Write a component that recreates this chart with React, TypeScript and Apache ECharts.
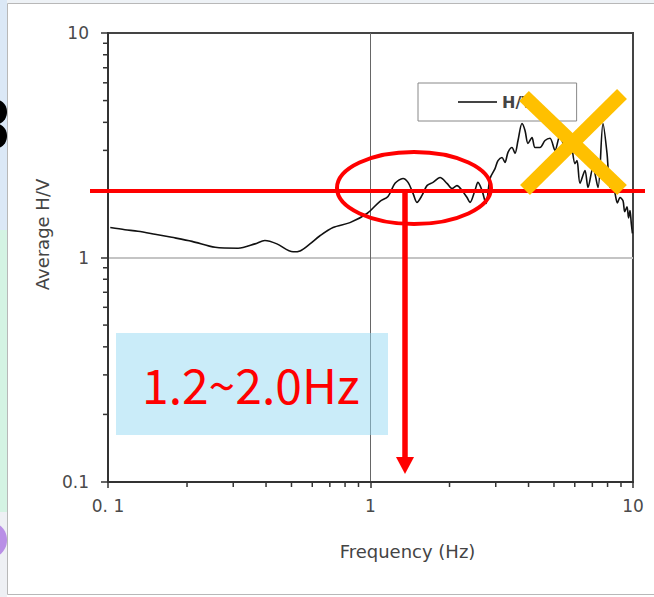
import React, { useEffect, useRef } from "react";
import * as echarts from "echarts";

// ---- data ----
const freqHz = [
  0.102, 0.116, 0.13, 0.151, 0.175, 0.209, 0.256, 0.313, 0.363, 0.396, 0.44, 0.507, 0.539, 0.588,
  0.642, 0.72, 0.835, 0.97, 1.087, 1.166, 1.24, 1.33, 1.39, 1.452, 1.503, 1.571, 1.641, 1.73, 1.84,
  1.956, 2.044, 2.135, 2.232, 2.332, 2.393, 2.5, 2.567, 2.659, 2.754, 2.853, 2.981, 3.06, 3.17,
  3.253, 3.34, 3.459, 3.552, 3.647, 3.777, 3.878, 3.981, 4.123, 4.234, 4.423, 4.622, 4.829, 5.045,
  5.272, 5.508, 5.754, 6.012, 6.119, 6.282, 6.563, 6.739, 7.042, 7.356, 7.686, 7.962, 8.174, 8.35,
  8.54, 8.72, 8.923, 9.161, 9.3, 9.487, 9.62, 9.74, 9.85, 9.95,
];
const avgHV = [
  1.36, 1.33, 1.31, 1.27, 1.23, 1.18, 1.11, 1.1, 1.15, 1.19, 1.15, 1.06, 1.07, 1.15,
  1.25, 1.36, 1.43, 1.57, 1.78, 1.87, 2.14, 2.25, 2.16, 1.93, 1.76, 1.89, 2.09, 2.16, 2.27,
  2.14, 2.03, 2.09, 1.99, 1.85, 1.76, 1.99, 2.16, 1.99, 1.74, 2.25, 2.49, 2.7, 2.79,
  2.65, 2.94, 3.09, 2.91, 3.32, 3.95, 3.68, 3.22, 3.42, 3.09, 3.09, 3.32, 3.4, 3.0,
  3.5, 3.1, 3.3, 2.62, 2.7, 2.14, 2.44, 2.05, 2.52, 2.05, 3.95, 2.91, 2.05, 2.15,
  1.93, 1.75, 1.85, 1.79, 1.6, 1.68, 1.5, 1.62, 1.42, 1.28,
];
const seriesName = "H/V";
const xTickValues = [0.1, 1, 10];
const xTickLabels = ["0. 1", "1", "10"];
const yTickValues = [0.1, 1, 10];
const yTickLabels = ["0.1", "1", "10"];
const minorTickValues = [0.2, 0.3, 0.4, 0.5, 0.6, 0.7, 0.8, 0.9, 2, 3, 4, 5, 6, 7, 8, 9];
const xAxisTitle = "Frequency (Hz)";
const yAxisTitle = "Average H/V";
const annotationText = "1.2~2.0Hz";

const labelFormatter = (vals: number[], labels: string[]) => (v: number) => {
  const i = vals.findIndex((t) => Math.abs(Math.log10(t) - Math.log10(v)) < 1e-6);
  return i >= 0 ? labels[i] : "";
};

const FONT = "DejaVu Sans";

export default function App() {
  const ref = useRef<HTMLDivElement>(null);
  useEffect(() => {
    const chart = echarts.init(ref.current!, null, { renderer: "svg" });
    chart.setOption({
      animation: false,
      backgroundColor: "#ffffff",
      grid: {
        left: 108,
        right: 21,
        top: 33,
        bottom: 115,
        show: true,
        borderColor: "#444",
        borderWidth: 2,
        backgroundColor: "transparent",
      },
      legend: {
        data: [{ name: seriesName, icon: "rect" }],
        left: 418,
        top: 83,
        borderColor: "#888",
        borderWidth: 1,
        backgroundColor: "#fff",
        padding: [11, 43, 11, 40],
        itemWidth: 39,
        itemHeight: 2,
        itemGap: 6,
        itemStyle: { color: "#444" },
        textStyle: { fontFamily: FONT, fontWeight: "bold", fontSize: 16, color: "#444", lineHeight: 16 },
      },
      xAxis: {
        type: "log",
        logBase: 10,
        min: 0.1,
        max: 10,
        name: xAxisTitle,
        nameLocation: "middle",
        nameGap: 60,
        nameTextStyle: { fontFamily: FONT, fontSize: 18, color: "#444", padding: [0, 0, 0, 74] },
        axisLine: { lineStyle: { color: "#333", width: 2 } },
        axisTick: { show: true, length: 6, lineStyle: { color: "#333", width: 1.5 } },
        axisLabel: {
          formatter: labelFormatter(xTickValues, xTickLabels),
          margin: 15,
          fontFamily: FONT,
          fontSize: 17,
          color: "#4a4a4a",
        },
        splitLine: {
          show: true,
          lineStyle: { color: ["rgba(0,0,0,0)", "#666", "rgba(0,0,0,0)"], width: 1 },
        },
      },
      yAxis: {
        type: "log",
        logBase: 10,
        min: 0.1,
        max: 10,
        name: yAxisTitle,
        nameLocation: "middle",
        nameGap: 56,
        nameTextStyle: { fontFamily: FONT, fontSize: 18, color: "#444", padding: [0, 0, 0, 46] },
        axisLine: { lineStyle: { color: "#333", width: 2 } },
        axisTick: { show: true, length: 7, lineStyle: { color: "#333", width: 1.5 } },
        axisLabel: {
          formatter: labelFormatter(yTickValues, yTickLabels),
          margin: 19,
          fontFamily: FONT,
          fontSize: 17,
          color: "#4a4a4a",
        },
        splitLine: {
          show: true,
          lineStyle: { color: ["rgba(0,0,0,0)", "#c4c4c4", "rgba(0,0,0,0)"], width: 2 },
        },
      },
      series: [
        {
          type: "line",
          name: seriesName,
          data: freqHz.map((f, i) => [f, avgHV[i]]),
          symbol: "none",
          smooth: 0.3,
          lineStyle: { color: "#111", width: 1.6 },
          itemStyle: { color: "#444" },
          z: 3,
        },
        {
          type: "custom",
          name: "xMinor",
          silent: true,
          clip: false,
          data: minorTickValues.map((v) => [v, 0.1]),
          renderItem: (_p: any, api: any) => {
            const p = api.coord([api.value(0), api.value(1)]);
            return {
              type: "line",
              shape: { x1: p[0], y1: p[1] + 1, x2: p[0], y2: p[1] + 5 },
              style: { stroke: "#333", lineWidth: 1.5 },
            };
          },
        },
        {
          type: "custom",
          name: "yMinor",
          silent: true,
          clip: false,
          data: minorTickValues.map((v) => [0.1, v]),
          renderItem: (_p: any, api: any) => {
            const p = api.coord([api.value(0), api.value(1)]);
            return {
              type: "line",
              shape: { x1: p[0] - 5, y1: p[1], x2: p[0] - 1, y2: p[1] },
              style: { stroke: "#333", lineWidth: 1.5 },
            };
          },
        },
      ],
      graphic: [
        // slide background fragments on the left edge
        { type: "rect", shape: { x: 0, y: 0, width: 7, height: 230 }, style: { fill: "#dbe8f6" } },
        { type: "rect", shape: { x: 0, y: 230, width: 7, height: 282 }, style: { fill: "#d4f3e3" } },
        { type: "rect", shape: { x: 0, y: 512, width: 7, height: 85 }, style: { fill: "#eef0f4" } },
        { type: "ellipse", shape: { cx: -8, cy: 540, rx: 15, ry: 17 }, style: { fill: "#b98fe6" } },
        { type: "ellipse", shape: { cx: -3, cy: 112, rx: 10, ry: 12 }, style: { fill: "#000" } },
        { type: "ellipse", shape: { cx: -3, cy: 136, rx: 10, ry: 12 }, style: { fill: "#000" } },
        { type: "rect", shape: { x: 7, y: 0, width: 660, height: 3 }, style: { fill: "#eef2f6" } },
        { type: "rect", shape: { x: 7.5, y: 3.5, width: 660, height: 591 }, style: { fill: "none", stroke: "#b8b8b8", lineWidth: 1 } },
        // annotations
        {
          type: "rect",
          shape: { x: 116, y: 333, width: 272, height: 102 },
          style: { fill: "rgba(150,218,243,0.5)" },
          z: 50,
        },
        {
          type: "text",
          x: 142,
          y: 383,
          z: 51,
          style: {
            text: annotationText,
            fontFamily: "Noto Sans CJK JP",
            fontSize: 48,
            fill: "#ff0000",
            align: "left",
            verticalAlign: "middle",
          },
        },
        { type: "line", z: 52, shape: { x1: 90, y1: 191, x2: 645, y2: 191 }, style: { stroke: "#ff0000", lineWidth: 4 } },
        { type: "ellipse", z: 52, shape: { cx: 414, cy: 188, rx: 77, ry: 36 }, style: { fill: "none", stroke: "#ff0000", lineWidth: 4 } },
        { type: "line", z: 52, shape: { x1: 405, y1: 191, x2: 405, y2: 459 }, style: { stroke: "#ff0000", lineWidth: 5.5 } },
        { type: "polygon", z: 52, shape: { points: [[396, 457], [414, 457], [405, 474]] }, style: { fill: "#ff0000" } },
        { type: "line", z: 53, shape: { x1: 524, y1: 96, x2: 622, y2: 190 }, style: { stroke: "#ffc000", lineWidth: 14 } },
        { type: "line", z: 53, shape: { x1: 622, y1: 94, x2: 525, y2: 190 }, style: { stroke: "#ffc000", lineWidth: 14 } },
      ],
    });
    return () => chart.dispose();
  }, []);
  return <div ref={ref} style={{ position: "fixed", left: 0, top: 0, width: 654, height: 597 }} />;
}
